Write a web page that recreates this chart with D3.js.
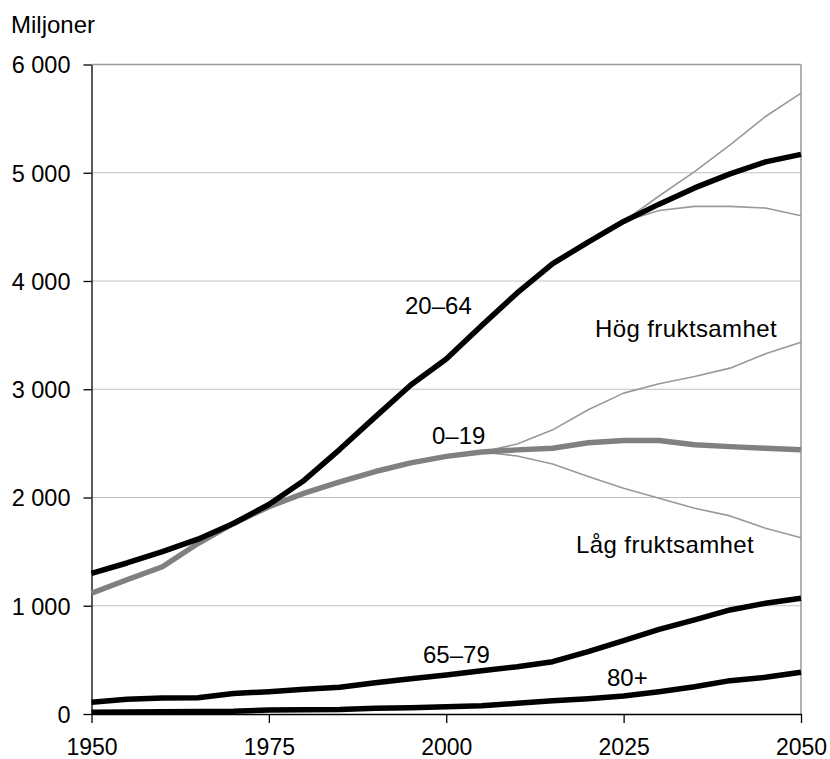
<!DOCTYPE html>
<html>
<head>
<meta charset="utf-8">
<script src="https://cdn.jsdelivr.net/npm/d3@7"></script>
<style>
  body { margin: 0; background: #fff; }
  svg text { font-family: "Liberation Sans", Arial, sans-serif; fill: #000; }
</style>
</head>
<body>
<svg id="chart" width="830" height="759"></svg>
<script>
// years every 5 from 1950 to 2050
var years = [1950, 1955, 1960, 1965, 1970, 1975, 1980, 1985, 1990, 1995, 2000,
             2005, 2010, 2015, 2020, 2025, 2030, 2035, 2040, 2045, 2050];

// age groups, millions
var age2064 = [1300, 1395, 1500, 1615, 1760, 1935, 2160, 2445, 2745, 3040, 3280,
               3590, 3890, 4160, 4360, 4550, 4710, 4860, 4990, 5100, 5170];
var age019 = [1115, 1240, 1360, 1575, 1760, 1915, 2040, 2145, 2240, 2320, 2380,
              2420, 2440, 2455, 2505, 2526, 2526, 2488, 2470, 2455, 2440];
var age6579 = [108, 136, 148, 151, 190, 206, 228, 247, 289, 325, 360,
               400, 437, 483, 576, 677, 782, 869, 961, 1023, 1069];
var age80 = [16, 18, 20, 22, 25, 37, 40, 42, 53, 58, 68,
             77, 99, 123, 141, 166, 206, 252, 308, 339, 385];

// fertility variants (thin lines), start where they leave the main line
var varYears2064 = [2025, 2030, 2035, 2040, 2045, 2050];
var hi2064 = [4550, 4785, 5010, 5258, 5520, 5736];
var lo2064 = [4550, 4652, 4689, 4689, 4674, 4603];
var varYears019 = [2005, 2010, 2015, 2020, 2025, 2030, 2035, 2040, 2045, 2050];
var hi019 = [2420, 2495, 2625, 2810, 2964, 3050, 3117, 3195, 3327, 3435];
var lo019 = [2420, 2384, 2310, 2193, 2086, 1993, 1901, 1830, 1716, 1629];

var yTicks = [0, 1000, 2000, 3000, 4000, 5000, 6000];
var xTicks = [1950, 1975, 2000, 2025, 2050];

var svg = d3.select("#chart");
// plot edges ("top" is taken on window, so other names)
var plotL = 91.5, plotR = 801, plotT = 64.5, plotB = 714;

var x = d3.scaleLinear().domain([1950, 2050]).range([plotL, plotR]);
var y = d3.scaleLinear().domain([0, 6000]).range([plotB, plotT]);

var fmt = function (d) { return d3.format(",")(d).replace(",", " "); };

// gridlines
svg.append("g").selectAll("line").data(yTicks.slice(1, 6)).enter().append("line")
    .attr("x1", plotL).attr("x2", plotR)
    .attr("y1", function (d) { return y(d); }).attr("y2", function (d) { return y(d); })
    .style("stroke", "#c0c0c0").style("stroke-width", 1);

// top and right border
svg.append("line").attr("x1", plotL).attr("x2", plotR).attr("y1", y(6000)).attr("y2", y(6000))
    .style("stroke", "#999").style("stroke-width", 1.5);
svg.append("line").attr("x1", plotR).attr("x2", plotR).attr("y1", y(6000)).attr("y2", plotB)
    .style("stroke", "#999").style("stroke-width", 1.5);

// axes
var yAxis = d3.axisLeft(y).tickValues(yTicks).tickFormat(fmt).tickSizeInner(8).tickSizeOuter(0).tickPadding(13);
var gy = svg.append("g").attr("transform", "translate(" + plotL + ",0)").call(yAxis);
gy.selectAll("text").style("font-size", "23.5px").attr("dy", "0.36em");
gy.selectAll("path,line").style("stroke", "#000").style("stroke-width", 1.3);

var xAxis = d3.axisBottom(x).tickValues(xTicks).tickFormat(d3.format("d")).tickSizeInner(9).tickSizeOuter(0).tickPadding(16);
var gx = svg.append("g").attr("transform", "translate(0," + plotB + ")").call(xAxis);
gx.selectAll("text").style("font-size", "23px");
gx.selectAll("path,line").style("stroke", "#000").style("stroke-width", 1.3);

var line = d3.line()
    .x(function (d) { return x(d[0]); })
    .y(function (d) { return y(d[1]); });

function draw(xs, vals, color, width) {
    svg.append("path")
        .datum(d3.zip(xs, vals))
        .attr("d", line)
        .style("fill", "none")
        .style("stroke", color)
        .style("stroke-width", width)
        .style("stroke-linejoin", "round");
}

// thin variant lines first
draw(varYears2064, hi2064, "#999", 1.6);
draw(varYears2064, lo2064, "#999", 1.6);
draw(varYears019, hi019, "#999", 1.6);
draw(varYears019, lo019, "#999", 1.6);

// main lines
draw(years, age019, "#808080", 5.5);
draw(years, age80, "#000", 5.5);
draw(years, age6579, "#000", 5.5);
draw(years, age2064, "#000", 5.5);

// labels
var labels = [
    { t: "Miljoner", x: 11, y: 33, ls: 0 },
    { t: "20–64", x: 405, y: 314, ls: 0 },
    { t: "Hög fruktsamhet", x: 595, y: 337, ls: 0.4 },
    { t: "0–19", x: 432, y: 444, ls: 0 },
    { t: "Låg fruktsamhet", x: 576, y: 553, ls: 0.4 },
    { t: "65–79", x: 423, y: 663, ls: 0 },
    { t: "80+", x: 607, y: 686, ls: 0 }
];
svg.selectAll("text.lab").data(labels).enter().append("text")
    .attr("class", "lab")
    .attr("x", function (d) { return d.x; })
    .attr("y", function (d) { return d.y; })
    .style("font-size", "24px")
    .style("letter-spacing", function (d) { return d.ls + "px"; })
    .text(function (d) { return d.t; });
</script>
</body>
</html>
